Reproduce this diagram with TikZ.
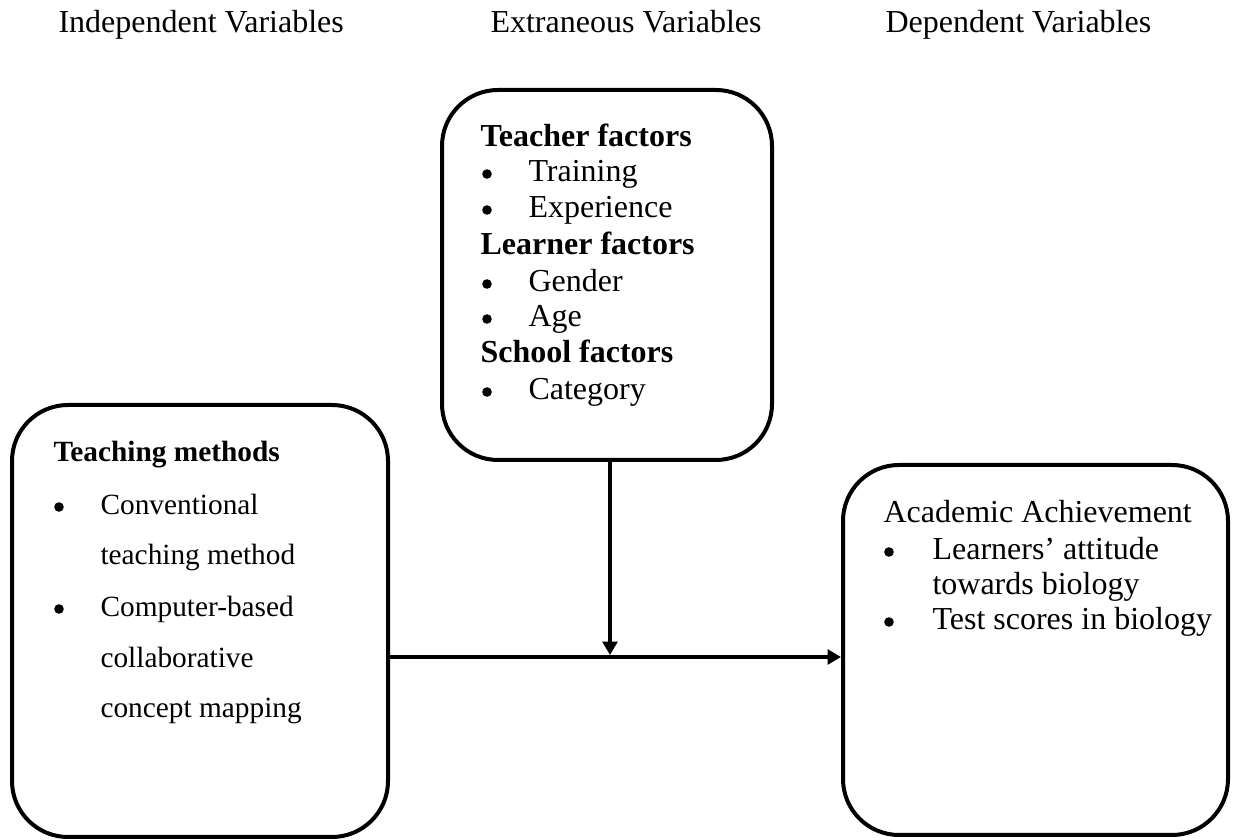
\documentclass[tikz,border=0pt]{standalone}
\usepackage{fontspec}
\setmainfont{Liberation Serif}
\usetikzlibrary{arrows.meta,fit}

\tikzset{
  box/.style={draw=black, line width=1.5pt, rounded corners=21pt, inner sep=0pt},
  link/.style={draw=black, line width=1.5pt, -{Triangle[length=5pt,width=5.5pt]}},
  txt/.style={anchor=base west, inner sep=0pt, font=\fontsize{12}{14}\selectfont},
  head/.style={txt, font=\fontsize{12}{14}\selectfont\bfseries},
  small/.style={anchor=base west, inner sep=0pt, font=\fontsize{11}{13}\selectfont},
  smallhead/.style={small, font=\fontsize{11}{13}\selectfont\bfseries},
  dot/.style={circle, fill=black, inner sep=0pt, minimum size=3.6pt}
}

\begin{document}
\begin{tikzpicture}[x=0.375pt, y=-0.375pt]
  \useasboundingbox (0,0) rectangle (1233,840);

  % column titles
  \node[txt] (tind) at (58,33) {Independent Variables};
  \node[txt] (text) at (490,33) {Extraneous Variables};
  \node[txt] (tdep) at (885,33) {Dependent Variables};

  % boxes
  \node[box, fit={(442,90) (772,460)}] (ext) {};
  \node[box, fit={(12,405) (388,837)}] (ind) {};
  \node[box, fit={(843,465) (1228,835)}] (dep) {};

  % extraneous factors
  \node[head] (tf) at (480,147) {Teacher factors};
  \node[dot] (b1) at (487,174) {};
  \node[txt] (tf1) at (528,182) {Training};
  \node[dot] (b2) at (487,210) {};
  \node[txt] (tf2) at (528,218) {Experience};
  \node[head] (lf) at (480,255) {Learner factors};
  \node[dot] (b3) at (487,284) {};
  \node[txt] (lf1) at (528,292) {Gender};
  \node[dot] (b4) at (487,319) {};
  \node[txt] (lf2) at (528,327) {Age};
  \node[head] (sf) at (480,363) {School factors};
  \node[dot] (b5) at (487,392) {};
  \node[txt] (sf1) at (528,400) {Category};

  % teaching methods
  \node[smallhead] (tm) at (53,462) {Teaching methods};
  \node[dot] (b6) at (59,507) {};
  \node[small] (tm1a) at (100,515) {Conventional};
  \node[small] (tm1b) at (100,565) {teaching method};
  \node[dot] (b7) at (59,609) {};
  \node[small] (tm2a) at (100,617) {Computer-based};
  \node[small] (tm2b) at (100,668) {collaborative};
  \node[small] (tm2c) at (100,718) {concept mapping};

  % academic achievement
  \node[txt] (aa) at (883,523) {Academic Achievement};
  \node[dot] (b8) at (889,552) {};
  \node[txt] (aa1a) at (932,560) {Learners’ attitude};
  \node[txt] (aa1b) at (932,595) {towards biology};
  \node[dot] (b9) at (889,622) {};
  \node[txt] (aa2) at (932,630) {Test scores in biology};

  % connectors
  \coordinate (j) at (610,657);
  \coordinate (jt) at (610,655);
  \draw[link] (ext.south -| jt) -- (jt);
  \draw[link] (ind.east |- j) -- (dep.west |- j);
\end{tikzpicture}
\end{document}
